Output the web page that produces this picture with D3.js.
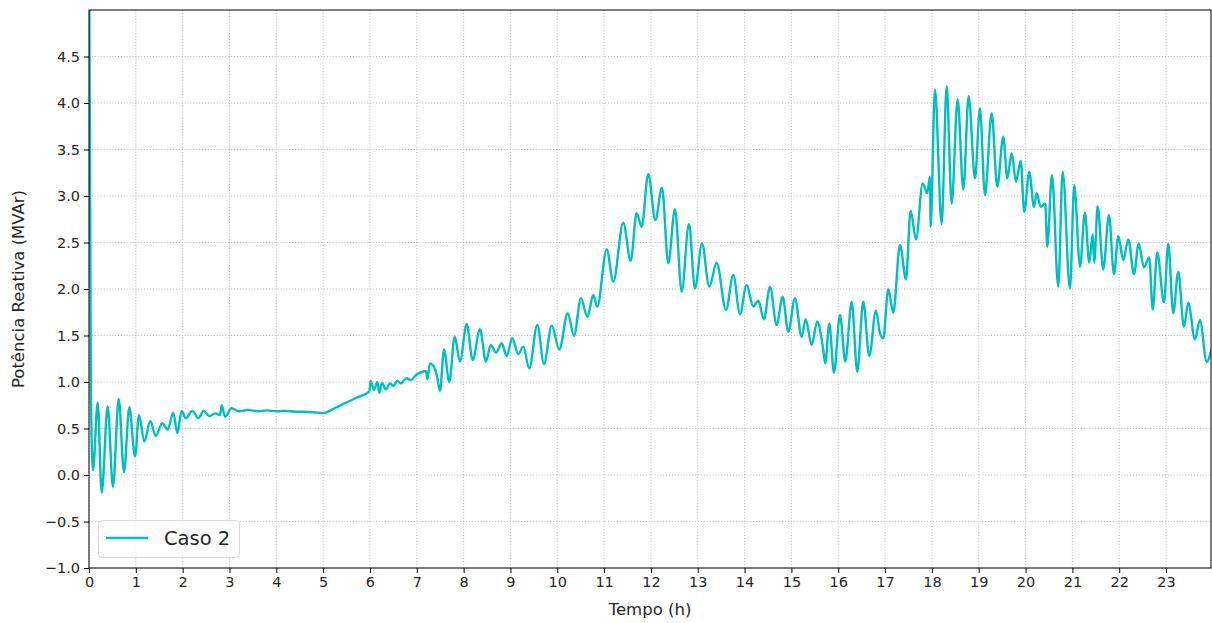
<!DOCTYPE html>
<html>
<head>
<meta charset="utf-8">
<script src="https://cdn.jsdelivr.net/npm/d3@7"></script>
<style>
  html, body { margin: 0; padding: 0; background: #fff; }
  svg { display: block; font-family: "DejaVu Sans", sans-serif; }
</style>
</head>
<body>
<svg id="chart" width="1212" height="623"></svg>
<script>
// ---- data ----
const seriesName = "Caso 2";
const xTicks = [0,1,2,3,4,5,6,7,8,9,10,11,12,13,14,15,16,17,18,19,20,21,22,23];
const yTicks = [-1.0,-0.5,0.0,0.5,1.0,1.5,2.0,2.5,3.0,3.5,4.0,4.5];

const hours = [
  0, 0.04, 0.085, 0.186, 0.271, 0.399, 0.512, 0.634, 0.747, 0.861, 0.982,
  1.068, 1.181, 1.309, 1.424, 1.565, 1.681, 1.800, 1.886, 1.979,
  2.065, 2.206, 2.334, 2.449, 2.562, 2.706, 2.797, 2.834, 2.904,
  3.047, 3.2, 3.4, 3.6, 3.8, 4.0, 4.2, 4.4, 4.6, 4.8, 5.003,
  5.25, 5.5, 5.75,
  5.985, 6.015, 6.086, 6.156, 6.199, 6.257, 6.342, 6.428, 6.498, 6.583, 6.656, 6.784, 6.870, 6.983,
  7.068, 7.196, 7.224, 7.282, 7.367, 7.425, 7.495, 7.581, 7.694, 7.809, 7.922,
  8.065, 8.194, 8.349, 8.477, 8.578, 8.691, 8.813, 8.920,
  9.039, 9.167, 9.274, 9.402, 9.573, 9.716, 9.880,
  10.043, 10.222, 10.357, 10.506, 10.641, 10.769, 10.854,
  11.055, 11.196, 11.409, 11.567, 11.695, 11.802, 11.943,
  12.093, 12.236, 12.370, 12.513, 12.656, 12.812, 12.940,
  13.090, 13.246, 13.404, 13.602, 13.758, 13.901,
  14.044, 14.185, 14.292, 14.414, 14.542, 14.685, 14.813, 14.933,
  15.076, 15.219, 15.304, 15.432, 15.552, 15.680, 15.723, 15.808, 15.908,
  16.037, 16.150, 16.287, 16.406, 16.534, 16.662, 16.805, 16.891, 16.961,
  17.068, 17.175, 17.318, 17.446, 17.546, 17.660, 17.803, 17.901, 17.958, 17.973,
  18.065, 18.208, 18.315, 18.422, 18.550, 18.670, 18.785, 18.920,
  19.026, 19.133, 19.276, 19.396, 19.524, 19.610, 19.703, 19.795, 19.895, 19.972,
  20.079, 20.179, 20.237, 20.322, 20.420, 20.463, 20.564, 20.698, 20.792, 20.948,
  21.040, 21.162, 21.268, 21.360, 21.433, 21.467, 21.540, 21.659, 21.781, 21.888, 21.980,
  22.087, 22.193, 22.315, 22.415, 22.528, 22.642, 22.714, 22.813, 22.956,
  23.047, 23.154, 23.261, 23.382, 23.474, 23.617, 23.724, 23.867, 23.974
];

const reactivePower = [
  6.0, 0.91, 0.05, 0.78, -0.19, 0.74, -0.13, 0.82, 0.03, 0.73, 0.20,
  0.645, 0.36, 0.58, 0.42, 0.556, 0.49, 0.67, 0.45, 0.69,
  0.61, 0.69, 0.61, 0.69, 0.634, 0.663, 0.645, 0.75, 0.627,
  0.717, 0.685, 0.70, 0.685, 0.695, 0.685, 0.69, 0.68, 0.68, 0.675, 0.665,
  0.72, 0.78, 0.84,
  0.896, 1.01, 0.914, 1.0, 0.885, 0.99, 0.92, 0.986, 0.957, 1.014, 0.986, 1.04, 1.02, 1.075,
  1.10, 1.118, 1.03, 1.20, 1.165, 1.075, 0.906, 1.35, 1.0, 1.487, 1.22,
  1.624, 1.237, 1.567, 1.22, 1.398, 1.315, 1.416, 1.28,
  1.47, 1.30, 1.38, 1.147, 1.613, 1.194, 1.605,
  1.35, 1.74, 1.498, 1.90, 1.70, 1.935, 1.81,
  2.427, 2.079, 2.713, 2.304, 2.814, 2.67, 3.237,
  2.742, 3.09, 2.276, 2.857, 1.97, 2.70, 2.007,
  2.49, 2.025, 2.283, 1.774, 2.15, 1.731,
  2.043, 1.81, 1.874, 1.674, 2.025, 1.613, 1.917, 1.54,
  1.90, 1.487, 1.674, 1.398, 1.65, 1.344, 1.20, 1.63, 1.10,
  1.72, 1.22, 1.864, 1.11, 1.864, 1.28, 1.767, 1.523, 1.47,
  1.997, 1.745, 2.473, 2.104, 2.842, 2.534, 3.136, 3.03, 3.208, 2.67,
  4.147, 2.699, 4.18, 2.92, 4.04, 3.07, 4.075, 3.19,
  3.943, 3.01, 3.889, 3.10, 3.638, 3.19, 3.459, 3.154, 3.38, 2.83,
  3.26, 2.88, 3.03, 2.885, 2.92, 2.455, 3.226, 2.025, 3.26, 2.007,
  3.118, 2.24, 2.82, 2.283, 2.59, 2.283, 2.89, 2.21, 2.796, 2.16, 2.57,
  2.312, 2.534, 2.16, 2.49, 2.233, 2.34, 1.78, 2.39, 1.853,
  2.484, 1.739, 2.186, 1.594, 1.853, 1.459, 1.667, 1.218, 1.36
];

// ---- layout ----
const margin = { left: 89, top: 10, right: 1, bottom: 55 };
const W = 1212, H = 623;
const plotW = W - margin.left - margin.right;
const plotH = H - margin.top - margin.bottom;

const svg = d3.select("#chart");
const g = svg.append("g").attr("transform", `translate(${margin.left},${margin.top})`);

const x = d3.scaleLinear().domain([0, 23.96]).range([0, plotW]);
const y = d3.scaleLinear().domain([-1.0, 5.0]).range([plotH, 0]);

const fmtY = v => d3.format(".1f")(v).replace("-", "\u2212");

// grid
const grid = g.append("g").attr("class", "grid");
grid.selectAll("line.gx").data(xTicks).enter().append("line")
  .attr("x1", d => x(d)).attr("x2", d => x(d))
  .attr("y1", 0).attr("y2", plotH)
  .attr("stroke", "#b0b0b0").attr("stroke-width", 0.8)
  .attr("stroke-dasharray", "1.1,1.8");
grid.selectAll("line.gy").data(yTicks).enter().append("line")
  .attr("x1", 0).attr("x2", plotW)
  .attr("y1", d => y(d)).attr("y2", d => y(d))
  .attr("stroke", "#b0b0b0").attr("stroke-width", 0.8)
  .attr("stroke-dasharray", "1.1,1.8");

// clip
svg.append("defs").append("clipPath").attr("id", "clip")
  .append("rect").attr("x", 0).attr("y", 0).attr("width", plotW).attr("height", plotH);

const data = hours.map((h, i) => ({ t: h, v: reactivePower[i] }));
const line = d3.line().x(d => x(d.t)).y(d => y(d.v)).curve(d3.curveMonotoneX);

g.append("path")
  .datum(data)
  .attr("clip-path", "url(#clip)")
  .attr("fill", "none")
  .attr("stroke", "#00bfbf")
  .attr("stroke-width", 2.4)
  .attr("stroke-linejoin", "round")
  .attr("d", line);

// axes
const xAxis = g.append("g").attr("transform", `translate(0,${plotH})`)
  .call(d3.axisBottom(x).tickValues(xTicks).tickFormat(d3.format("d")).tickSize(5).tickPadding(4));
const yAxis = g.append("g")
  .call(d3.axisLeft(y).tickValues(yTicks).tickFormat(fmtY).tickSize(5).tickPadding(4));

[xAxis, yAxis].forEach(a => {
  a.select(".domain").remove();
  a.selectAll(".tick line").attr("stroke", "#000").attr("stroke-width", 1);
  a.selectAll(".tick text").attr("fill", "#262626")
    .style("font-size", "14.5px").style("font-family", "'DejaVu Sans', sans-serif");
});

// frame
g.append("rect").attr("x", 0).attr("y", 0).attr("width", plotW).attr("height", plotH)
  .attr("fill", "none").attr("stroke", "#000").attr("stroke-width", 1);

// axis labels
svg.append("text")
  .attr("x", margin.left + plotW / 2).attr("y", 615)
  .attr("text-anchor", "middle")
  .style("font-size", "16.5px").attr("fill", "#262626")
  .text("Tempo (h)");
svg.append("text")
  .attr("transform", `translate(24,${margin.top + plotH / 2}) rotate(-90)`)
  .attr("text-anchor", "middle")
  .style("font-size", "16.5px").attr("fill", "#262626")
  .text("Potência Reativa (MVAr)");

// legend
const lg = svg.append("g");
lg.append("rect").attr("x", 98.5).attr("y", 520.5).attr("width", 141).attr("height", 37)
  .attr("rx", 4).attr("ry", 4)
  .attr("fill", "#fff").attr("fill-opacity", 0.8)
  .attr("stroke", "#d9d9d9").attr("stroke-width", 1);
lg.append("line").attr("x1", 106).attr("x2", 148).attr("y1", 538).attr("y2", 538)
  .attr("stroke", "#00bfbf").attr("stroke-width", 2.4);
lg.append("text").attr("x", 164).attr("y", 545)
  .style("font-size", "19.5px").attr("fill", "#262626")
  .text(seriesName);
</script>
</body>
</html>
